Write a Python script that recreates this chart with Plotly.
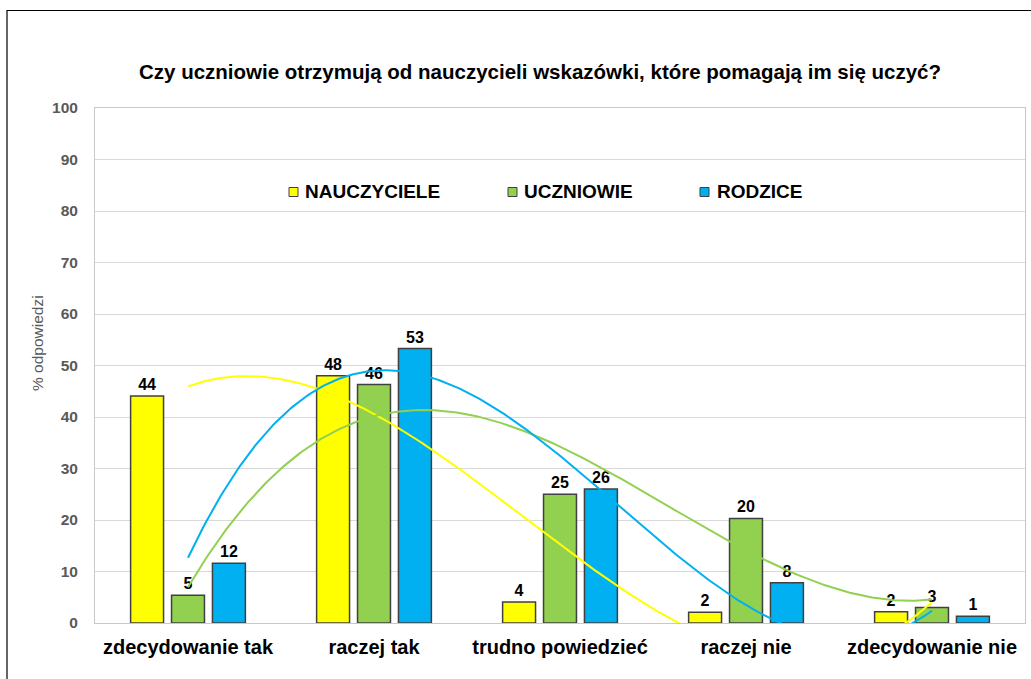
import numpy as np
import plotly.graph_objects as go

categories = ["zdecydowanie tak", "raczej tak", "trudno powiedzieć", "raczej nie", "zdecydowanie nie"]
series_names = ["NAUCZYCIELE", "UCZNIOWIE", "RODZICE"]
nauczyciele = [44.1, 48.0, 4.1, 2.1, 2.2]
uczniowie = [5.4, 46.3, 25.0, 20.3, 3.0]
rodzice = [11.6, 53.3, 26.0, 7.8, 1.3]
colors = ["#FFFF00", "#92D050", "#00B0F0"]
y_ticks = [0, 10, 20, 30, 40, 50, 60, 70, 80, 90, 100]
title_text = "Czy uczniowie otrzymują od nauczycieli wskazówki, które pomagają im się uczyć?"
y_title = "% odpowiedzi"

W, H = 1031, 679
ML, MR, MT, MB = 95, 6, 108, 56
PW, PH = W - ML - MR, H - MT - MB


def px2x(p):
    return (p - ML) / PW


def px2y(p):
    return (H - MB - p) / PH


FONT = "Liberation Sans, Arial, sans-serif"
xs = list(range(len(categories)))

fig = go.Figure()
all_series = [nauczyciele, uczniowie, rodzice]
for name, vals, col in zip(series_names, all_series, colors):
    fig.add_trace(go.Bar(
        x=xs, y=vals, name=name,
        marker=dict(color=col, line=dict(color="#404040", width=1.5)),
        texttemplate="%{y:.0f}", textposition="outside",
        textfont=dict(family=FONT, size=16, color="black", weight="bold"),
        constraintext="none", cliponaxis=False, showlegend=False,
    ))

# polynomial (order 3) trendlines, fitted to each series
xx = np.linspace(0, len(categories) - 1, 300)
for vals, col in zip(all_series, colors):
    coef = np.polyfit(np.array(xs) + 1, np.array(vals), 3)
    yy = np.polyval(coef, xx + 1)
    fig.add_trace(go.Scatter(
        x=xx, y=yy, mode="lines", line=dict(color=col, width=2),
        hoverinfo="skip", showlegend=False,
    ))

shapes = []
annotations = []
# outer chart border
shapes.append(dict(type="rect", xref="paper", yref="paper",
                   x0=px2x(7), x1=px2x(W + 10), y0=px2y(H + 10), y1=px2y(10.5),
                   line=dict(color="black", width=1.2), fillcolor="rgba(0,0,0,0)", layer="below"))

# legend (manual, to match the compact spacing)
leg_sq = [289, 508, 700]
leg_tx = [303, 522, 715]
leg_y = 192
for name, col, sx, tx in zip(series_names, colors, leg_sq, leg_tx):
    shapes.append(dict(type="rect", xref="paper", yref="paper",
                       x0=px2x(sx), x1=px2x(sx + 9), y0=px2y(leg_y + 4.5), y1=px2y(leg_y - 4.5),
                       fillcolor=col, line=dict(color="#404040", width=1)))
    annotations.append(dict(xref="paper", yref="paper", x=px2x(tx), y=px2y(leg_y),
                            xanchor="left", yanchor="middle", showarrow=False, text=name,
                            font=dict(family=FONT, size=19, color="black", weight="bold")))

annotations.append(dict(xref="paper", yref="paper", x=px2x(37), y=px2y(343),
                        xanchor="center", yanchor="middle", showarrow=False, text=y_title,
                        textangle=-90, font=dict(family=FONT, size=15.5, color="#595959")))

fig.update_layout(
    width=W, height=H,
    margin=dict(l=ML, r=MR, t=MT, b=MB),
    paper_bgcolor="white", plot_bgcolor="white",
    barmode="group", bargap=0.34, bargroupgap=0.195,
    title=dict(text=title_text, xref="container", yref="container",
               x=540 / W, y=1 - 72 / H, xanchor="center", yanchor="middle",
               font=dict(family=FONT, size=20.5, color="black", weight="bold")),
    shapes=shapes, annotations=annotations,
    xaxis=dict(range=[-0.5, len(categories) - 0.5], tickvals=xs, ticktext=categories,
               showgrid=False, showline=True, mirror=True, linecolor="#C8C8C8", linewidth=1,
               ticks="", ticklabelstandoff=6, zeroline=False,
               tickfont=dict(family=FONT, size=20, color="black", weight="bold")),
    yaxis=dict(range=[0, 100], tickvals=y_ticks, showgrid=True, gridcolor="#D9D9D9", gridwidth=1,
               showline=True, mirror=True, linecolor="#C8C8C8", linewidth=1, zeroline=False,
               ticks="", ticklabelstandoff=13,
               tickfont=dict(family=FONT, size=15.5, color="#595959", weight="bold")),
    showlegend=False,
)

fig.write_html("out.html", config={"displayModeBar": False},
               post_script="document.body.style.margin='0px';")
